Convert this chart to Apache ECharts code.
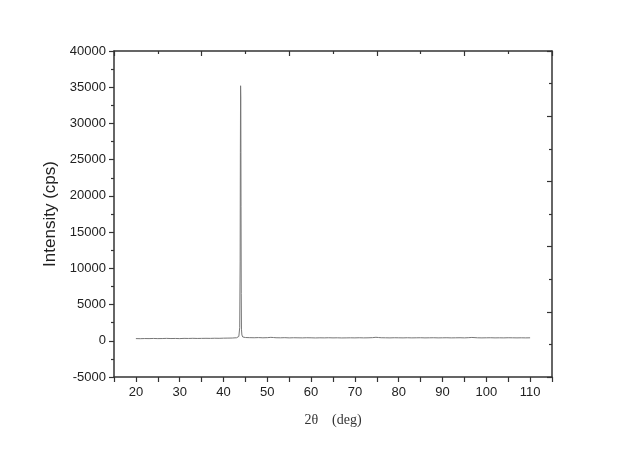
<!DOCTYPE html>
<html>
<head>
<meta charset="utf-8">
<script src="https://cdn.jsdelivr.net/npm/echarts@6/dist/echarts.min.js"></script>
<style>html,body{margin:0;padding:0;background:#fff;}#c{width:640px;height:452px;}</style>
</head>
<body>
<div id="c"></div>
<script>
const twoTheta = [20,21,22,23,24,25,26,27,28,29,30,31,32,33,34,35,36,37,38,39,40,41,42,43,43.5,43.7,43.8,43.85,43.9,43.95,44.0,44.05,44.1,44.2,44.4,45,46,47,48,49,50,50.8,51.1,51.4,52,53,54,55,56,57,58,59,60,61,62,63,64,65,66,67,68,69,70,71,72,73,74,74.8,75.1,75.4,76,77,78,79,80,81,82,83,84,85,86,87,88,89,90,91,92,93,94,95,96,96.2,96.45,96.7,97,98,99,100,101,102,103,104,105,106,107,108,109,110];
const intensity = [300,290,310,300,320,300,310,330,310,320,300,330,320,340,320,330,340,330,350,340,360,370,380,420,600,1800,11000,26000,35200,33500,18500,6500,1600,800,520,450,430,420,440,410,430,470,620,450,420,410,430,400,420,410,400,420,410,390,410,400,420,400,410,390,400,410,400,420,400,410,430,480,680,450,420,410,400,420,410,400,420,400,410,420,400,410,420,400,410,420,400,410,420,400,430,470,690,460,420,410,400,410,420,400,410,400,420,410,400,410,400,410];

const xTicksMin = 15, xTicksMax = 115;
const yMin = -5000, yMax = 40000, yStep = 5000;

const chart = echarts.init(document.getElementById('c'), null, {renderer: 'canvas'});
const axisColor = '#333';
const labelFont = {fontFamily: 'Liberation Sans, Arial, sans-serif', fontSize: 13, color: '#222'};

chart.setOption({
  animation: false,
  backgroundColor: '#fff',
  grid: {left: 114, top: 51, width: 438, height: 326, containLabel: false},
  xAxis: [
    {
      type: 'value', position: 'bottom', min: xTicksMin, max: xTicksMax, interval: 5,
      name: '2θ    (deg)', nameLocation: 'middle', nameGap: 36,
      nameTextStyle: {fontFamily: 'Liberation Serif, Times New Roman, serif', fontSize: 14, color: '#333'},
      axisLine: {show: true, onZero: false, lineStyle: {color: axisColor, width: 1.5}},
      axisTick: {show: true, inside: false, length: 5, lineStyle: {color: axisColor, width: 1.2}},
      minorTick: {show: false},
      splitLine: {show: false},
      axisLabel: Object.assign({margin: 9, formatter: v => (v % 10 === 0 && v >= 20 && v <= 110) ? String(v) : ''}, labelFont)
    },
    {
      type: 'value', position: 'top', min: xTicksMin, max: xTicksMax, interval: 20,
      axisLine: {show: true, onZero: false, lineStyle: {color: axisColor, width: 1.5}},
      axisTick: {show: true, inside: true, length: 5, lineStyle: {color: axisColor, width: 1.2}},
      minorTick: {show: true, splitNumber: 2, length: 3, lineStyle: {color: axisColor, width: 1.2}},
      splitLine: {show: false},
      axisLabel: {show: false}
    }
  ],
  yAxis: [
    {
      type: 'value', position: 'left', min: yMin, max: yMax, interval: yStep,
      name: 'Intensity (cps)', nameLocation: 'middle', nameGap: 46,
      nameTextStyle: {fontFamily: 'Liberation Sans, Arial, sans-serif', fontSize: 17, color: '#222'},
      axisLine: {show: true, onZero: false, lineStyle: {color: axisColor, width: 1.5}},
      axisTick: {show: true, inside: false, length: 5, lineStyle: {color: axisColor, width: 1.2}},
      minorTick: {show: true, splitNumber: 2, length: 3, lineStyle: {color: axisColor, width: 1.2}},
      splitLine: {show: false},
      axisLabel: Object.assign({margin: 8, formatter: v => String(v)}, labelFont)
    },
    {
      type: 'value', position: 'right', min: 0, max: 10, interval: 2,
      axisLine: {show: true, onZero: false, lineStyle: {color: axisColor, width: 1.5}},
      axisTick: {show: true, inside: true, length: 5, lineStyle: {color: axisColor, width: 1.2}},
      minorTick: {show: true, splitNumber: 2, length: 3, lineStyle: {color: axisColor, width: 1.2}},
      splitLine: {show: false},
      axisLabel: {show: false}
    }
  ],
  series: [{
    type: 'line',
    xAxisIndex: 0, yAxisIndex: 0,
    data: twoTheta.map((x, i) => [x, intensity[i]]),
    showSymbol: false,
    symbol: 'none',
    lineStyle: {color: '#777', width: 1},
    clip: true
  }]
});
</script>
</body>
</html>
